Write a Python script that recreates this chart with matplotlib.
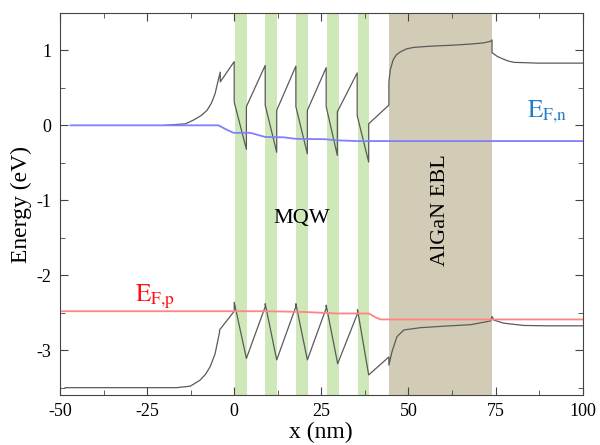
import numpy as np
import matplotlib
matplotlib.use('Agg')
import matplotlib.pyplot as plt
from matplotlib.ticker import MultipleLocator

plt.rcParams['font.family'] = ['Liberation Serif', 'DejaVu Serif']
plt.rcParams['mathtext.fontset'] = 'stix'
plt.rcParams['axes.unicode_minus'] = False

# conduction band
cb_x = [-20, -14, -11.7, -9.5, -7.8, -6.5, -5.5, -4.6, -4.0, -4.0, 0.0, 0.0, 3.5, 3.5,
        8.9, 8.9, 12.2, 12.2, 17.7, 17.7, 21.0, 21.0, 26.4, 26.4, 29.6, 29.6, 35.3, 35.3,
        38.6, 38.6, 44.4, 44.4, 44.8, 45.6, 46.5, 47.7, 49.5, 51.5, 56, 63, 68, 71.6,
        73.5, 74.0, 74.0, 75.5, 76.9, 78.5, 80.3, 84, 87, 100]
cb_y = [0.0, 0.02, 0.07, 0.13, 0.2, 0.3, 0.42, 0.6, 0.71, 0.58, 0.85, 0.31, -0.32, 0.25,
        0.8, 0.27, -0.36, 0.2, 0.79, 0.25, -0.38, 0.2, 0.77, 0.25, -0.4, 0.18, 0.7, 0.13,
        -0.49, 0.02, 0.27, 0.58, 0.74, 0.87, 0.94, 0.98, 1.02, 1.04, 1.055, 1.07, 1.085, 1.1,
        1.12, 1.14, 0.97, 0.92, 0.89, 0.86, 0.84, 0.835, 0.83, 0.83]

# valence band
vb_x = [-48.5, -16.5, -12.6, -9.8, -8.2, -6.9, -5.5, -4.2, -4.2, 0.0, 0.0, 3.5, 8.9, 8.9,
        12.2, 17.7, 17.7, 21.0, 26.4, 26.4, 29.7, 35.4, 35.4, 38.6, 44.4, 44.4, 45.3, 46.0,
        46.7, 48.7, 53.4, 60, 67.8, 73.6, 74.0, 74.6, 77.4, 83.1, 90, 100]
vb_y = [-3.5, -3.5, -3.48, -3.4, -3.32, -3.22, -3.05, -2.76, -2.73, -2.48, -2.36, -3.11,
        -2.42, -2.38, -3.13, -2.42, -2.38, -3.13, -2.44, -2.40, -3.18, -2.51, -2.46, -3.33,
        -3.09, -3.2, -3.02, -2.92, -2.82, -2.73, -2.70, -2.68, -2.66, -2.61, -2.55, -2.6,
        -2.64, -2.67, -2.675, -2.675]

# quasi fermi levels
efn_x = [-47, -4.5, -2.5, -0.2, 4.6, 8.9, 14.2, 17.7, 26.1, 29.5, 35.3, 100]
efn_y = [0, 0, -0.05, -0.1, -0.1, -0.155, -0.16, -0.18, -0.185, -0.2, -0.21, -0.21]
efp_x = [-49.5, 8.9, 20, 29.5, 38.6, 40.5, 42, 100]
efp_y = [-2.48, -2.48, -2.49, -2.51, -2.51, -2.56, -2.59, -2.59]

# layers
qw_start = [0.3, 8.9, 17.8, 26.7, 35.4]
qw_end = [3.6, 12.3, 21.2, 30.1, 38.7]
ebl = (44.5, 74.1)

fig = plt.figure(figsize=(6, 4.45), dpi=100)
ax = fig.add_axes([0.1, 0.112, 0.871, 0.859])

for a, b in zip(qw_start, qw_end):
    ax.axvspan(a, b, color='#cfe8b9', lw=0, zorder=1)
ax.axvspan(ebl[0], ebl[1], color='#d2ccb7', lw=0, zorder=1)

ax.plot(cb_x, cb_y, color='#5a5a5a', lw=0.9, zorder=3)
ax.plot(vb_x, vb_y, color='#5a5a5a', lw=0.9, zorder=3)
ax.plot(efn_x, efn_y, color='#7f7fff', lw=1.3, zorder=4)
ax.plot(efp_x, efp_y, color='#ff8585', lw=1.3, zorder=4)

ax.text(19.5, -1.24, 'MQW', fontsize=16, ha='center', va='center')
ax.text(59.3, -1.13, 'AlGaN EBL', fontsize=16, ha='center', va='center', rotation=90)
ax.text(84, 0.0, r'$\mathrm{E_{F{,}n}}$', fontsize=18, color='#1f7ad0', ha='left', va='bottom')
ax.text(-28.5, -2.48, r'$\mathrm{E_{F{,}p}}$', fontsize=18, color='#ff1010', ha='left', va='bottom')

ax.set_xlim(-50, 100)
ax.set_ylim(-3.6, 1.5)
ax.xaxis.set_major_locator(MultipleLocator(25))
ax.xaxis.set_minor_locator(MultipleLocator(12.5))
ax.yaxis.set_major_locator(MultipleLocator(1))
ax.yaxis.set_minor_locator(MultipleLocator(0.5))
ax.tick_params(which='both', direction='in', top=True, right=True, color='#444444',
               labelsize=13)
ax.tick_params(which='major', length=6, pad=6)
ax.tick_params(which='minor', length=3.5)
for s in ax.spines.values():
    s.set_color('#444444')
ax.set_xlabel('x (nm)', fontsize=17, labelpad=1)
ax.set_ylabel('Energy (eV)', fontsize=17, labelpad=3)

fig.savefig('out.png', dpi=100)
